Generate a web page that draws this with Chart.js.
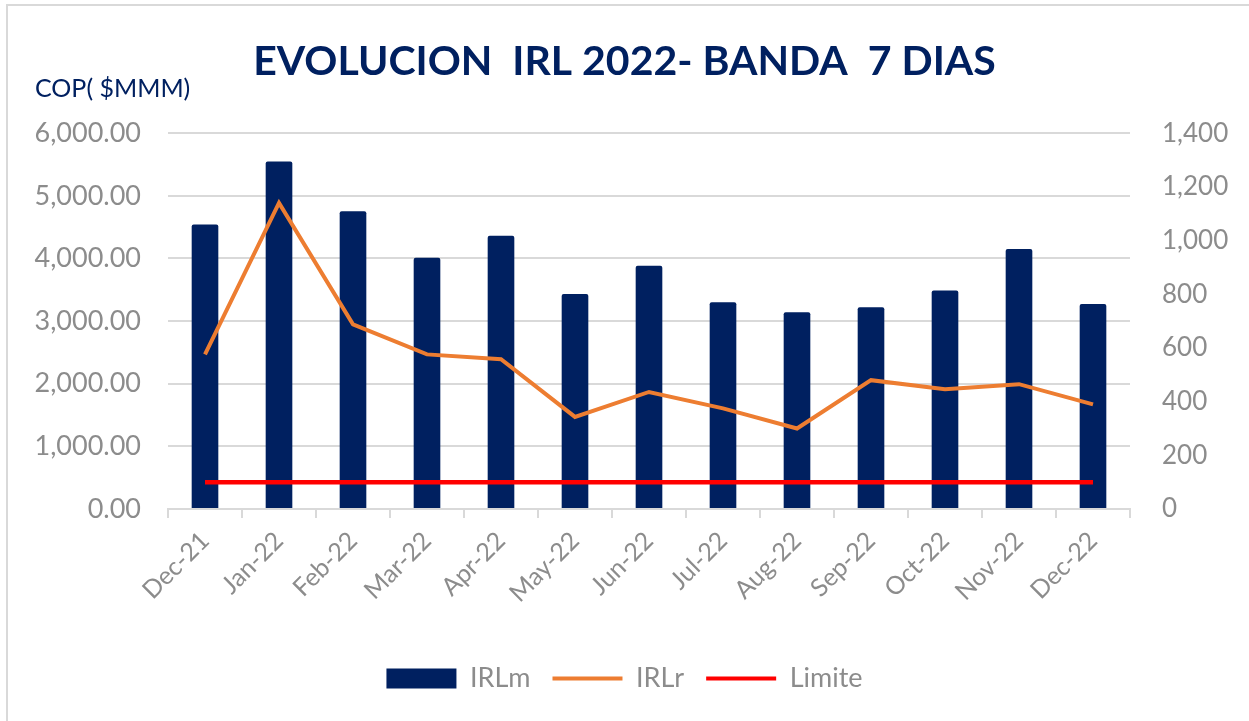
<!DOCTYPE html>
<html>
<head>
<meta charset="utf-8">
<script src="https://cdn.jsdelivr.net/npm/chart.js@4.4.1/dist/chart.umd.min.js"></script>
<style>
  html, body { margin: 0; padding: 0; background: #fff; }
  #wrap { position: absolute; left: 0; top: 0; width: 1249px; height: 721px; }
  #frame { position: absolute; left: 6px; top: 4px; width: 1260px; height: 740px; border: 2px solid #d9d9d9; box-sizing: border-box; pointer-events: none; }
  canvas { position: absolute; left: 0; top: 0; }
</style>
</head>
<body>
<div id="wrap">
  <canvas id="c" width="1249" height="721"></canvas>
  <div id="frame"></div>
</div>
<script>
const categories = ['Dec-21','Jan-22','Feb-22','Mar-22','Apr-22','May-22','Jun-22','Jul-22','Aug-22','Sep-22','Oct-22','Nov-22','Dec-22'];
const irlm = [4541, 5549, 4752, 4010, 4363, 3433, 3885, 3301, 3142, 3221, 3487, 4150, 3274];
const irlr = [576, 1140, 688, 576, 558, 343, 436, 375, 300, 480, 446, 465, 390];
const limite = [100, 100, 100, 100, 100, 100, 100, 100, 100, 100, 100, 100, 100];
const titleText = 'EVOLUCION  IRL 2022- BANDA  7 DIAS';
const unitLabel = 'COP( $MMM)';

const FONT = 'Lato, "Noto Sans", sans-serif';
const NAVY = '#002060';
const GRAY = '#8c8c8c';
const GRID = '#d9d9d9';

const PLOT_LEFT = 168, PLOT_RIGHT = 1130;

const unitPlugin = {
  id: 'unitLabel',
  afterDraw(chart) {
    const ctx = chart.ctx;
    ctx.save();
    ctx.font = '400 25px ' + FONT;
    ctx.fillStyle = NAVY;
    ctx.textAlign = 'left';
    ctx.textBaseline = 'alphabetic';
    ctx.fillText(unitLabel, 35, 97);
    ctx.restore();
  }
};

new Chart(document.getElementById('c'), {
  data: {
    labels: categories,
    datasets: [
      {
        type: 'line', label: 'IRLr', data: irlr, yAxisID: 'y1',
        borderColor: '#ED7D31', backgroundColor: '#ED7D31', borderWidth: 4,
        pointRadius: 0, tension: 0, order: 1
      },
      {
        type: 'line', label: 'Limite', data: limite, yAxisID: 'y1',
        borderColor: '#FF0000', backgroundColor: '#FF0000', borderWidth: 4.5,
        pointRadius: 0, tension: 0, order: 0
      },
      {
        type: 'bar', label: 'IRLm', data: irlm, yAxisID: 'y',
        backgroundColor: NAVY, borderWidth: 0, borderRadius: 2,
        categoryPercentage: 1.0, barPercentage: 0.36, order: 2
      }
    ]
  },
  options: {
    responsive: false,
    animation: false,
    devicePixelRatio: 1,
    layout: { padding: { left: 0, right: 0, top: 0, bottom: 19 } },
    plugins: {
      title: {
        display: true, text: titleText, color: NAVY,
        font: { family: FONT, size: 41, weight: 'bold' },
        padding: { top: 37, bottom: 47 }
      },
      legend: {
        position: 'bottom',
        labels: {
          color: GRAY,
          font: { family: FONT, size: 27 },
          usePointStyle: true,
          pointStyleWidth: 70,
          boxHeight: 20,
          padding: 22,
          generateLabels(chart) {
            const order = [2, 0, 1];
            return order.map(i => {
              const ds = chart.data.datasets[i];
              const isBar = ds.type === 'bar';
              return {
                text: ds.label,
                fillStyle: isBar ? NAVY : ds.borderColor,
                strokeStyle: isBar ? NAVY : ds.borderColor,
                lineWidth: isBar ? 0 : 4,
                pointStyle: isBar ? 'rect' : 'line',
                fontColor: GRAY,
                hidden: false,
                datasetIndex: i
              };
            });
          }
        }
      },
      tooltip: { enabled: false }
    },
    scales: {
      x: {
        offset: true,
        grid: { display: true, drawOnChartArea: false, drawTicks: true, tickLength: 9, color: GRID, lineWidth: 2, offset: true },
        border: { display: true, color: GRID, width: 2 },
        ticks: { color: GRAY, font: { family: FONT, size: 25 }, maxRotation: 45, minRotation: 45, padding: 8, autoSkip: false },
        afterFit(scale) { scale.height = 134; }
      },
      y: {
        position: 'left', min: 0, max: 6000,
        grid: { color: GRID, lineWidth: 2, drawTicks: false },
        border: { display: false },
        ticks: {
          stepSize: 1000, color: GRAY, font: { family: FONT, size: 27 }, padding: 27,
          callback: v => v.toLocaleString('en-US', { minimumFractionDigits: 2, maximumFractionDigits: 2 })
        },
        afterFit(scale) { scale.width = PLOT_LEFT; }
      },
      y1: {
        position: 'right', min: 0, max: 1400,
        grid: { display: false, drawOnChartArea: false },
        border: { display: false },
        ticks: {
          stepSize: 200, color: GRAY, font: { family: FONT, size: 26 }, padding: 24,
          callback: v => v.toLocaleString('en-US')
        },
        afterFit(scale) { scale.width = 1249 - PLOT_RIGHT; }
      }
    }
  },
  plugins: [unitPlugin]
});
</script>
</body>
</html>
